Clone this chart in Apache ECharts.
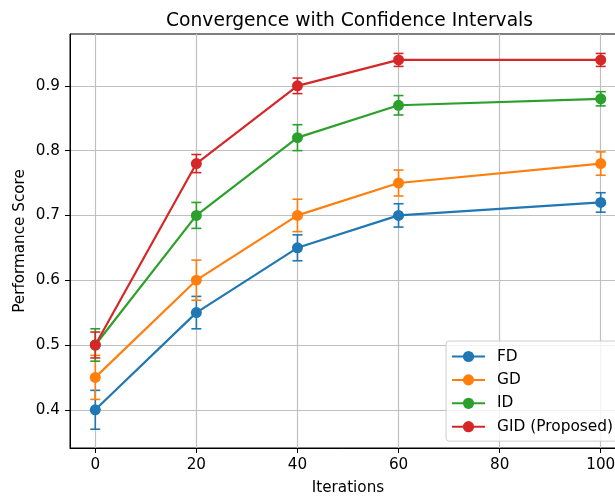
<!DOCTYPE html>
<html>
<head>
<meta charset="utf-8">
<script src="https://cdn.jsdelivr.net/npm/echarts@6/dist/echarts.min.js"></script>
<style>
  html, body { margin: 0; padding: 0; background: #fff; }
  #chart { width: 615px; height: 499px; }
</style>
</head>
<body>
<div id="chart"></div>
<script>
const iterations = [0, 20, 40, 60, 100];
const seriesNames = ["FD", "GD", "ID", "GID (Proposed)"];
const colors = ["#1f77b4", "#ff7f0e", "#2ca02c", "#d62728"];

// mean scores
const fdScore = [0.40, 0.55, 0.65, 0.70, 0.72];
const gdScore = [0.45, 0.60, 0.70, 0.75, 0.78];
const idScore = [0.50, 0.70, 0.82, 0.87, 0.88];
const gidScore = [0.50, 0.78, 0.90, 0.94, 0.94];

// half-width of the confidence intervals
const fdErr = [0.030, 0.025, 0.020, 0.018, 0.015];
const gdErr = [0.034, 0.031, 0.025, 0.020, 0.018];
const idErr = [0.025, 0.020, 0.020, 0.015, 0.011];
const gidErr = [0.020, 0.014, 0.012, 0.010, 0.010];

const xTicks = [0, 20, 40, 60, 80, 100];
const yTicks = [0.4, 0.5, 0.6, 0.7, 0.8, 0.9];

const scores = [fdScore, gdScore, idScore, gidScore];
const errs = [fdErr, gdErr, idErr, gidErr];

const FONT = "DejaVu Sans";
const FS = 15.2;

const chart = echarts.init(document.getElementById("chart"));

const series = [];
scores.forEach((vals, i) => {
  const color = colors[i];
  // error bars drawn just under their own line
  series.push({
    name: seriesNames[i] + " err",
    type: "custom",
    z: 10 + i * 2,
    data: iterations.map((x, k) => [x, vals[k], errs[i][k]]),
    encode: { x: 0, y: 1 },
    renderItem: (params, api) => {
      const x = api.value(0), y = api.value(1), e = api.value(2);
      const top = api.coord([x, y + e]);
      const bot = api.coord([x, y - e]);
      const cap = 5;
      const style = { stroke: color, lineWidth: 1.6 };
      return {
        type: "group",
        children: [
          { type: "line", shape: { x1: top[0], y1: top[1], x2: bot[0], y2: bot[1] }, style },
          { type: "line", shape: { x1: top[0] - cap, y1: top[1], x2: top[0] + cap, y2: top[1] }, style },
          { type: "line", shape: { x1: bot[0] - cap, y1: bot[1], x2: bot[0] + cap, y2: bot[1] }, style }
        ]
      };
    }
  });
  series.push({
    name: seriesNames[i],
    type: "line",
    z: 11 + i * 2,
    data: iterations.map((x, k) => [x, vals[k]]),
    symbol: "circle",
    symbolSize: 11,
    showSymbol: true,
    lineStyle: { color, width: 2.2 },
    itemStyle: { color }
  });
});

chart.setOption({
  animation: false,
  color: colors,
  title: {
    text: "Convergence with Confidence Intervals",
    left: 161,
    top: 7,
    textStyle: { fontFamily: FONT, fontSize: 18.7, fontWeight: "normal", color: "#000" }
  },
  grid: {
    left: 70,
    right: -11,
    top: 34,
    bottom: 51,
    outerBoundsMode: "none",
    containLabel: false,
    show: true,
    borderColor: "#000",
    borderWidth: 1
  },
  legend: {
    data: seriesNames,
    orient: "vertical",
    left: 446,
    top: 341,
    itemWidth: 33,
    itemHeight: 14,
    itemGap: 8.4,
    padding: [8, 10, 7, 5],
    backgroundColor: "rgba(255,255,255,0.8)",
    borderColor: "#cccccc",
    borderWidth: 1,
    borderRadius: 3,
    textStyle: { fontFamily: FONT, fontSize: 15.4, color: "#000", padding: [0, 0, 0, 7] }
  },
  xAxis: {
    type: "value",
    min: -5,
    max: 105,
    name: "Iterations",
    nameLocation: "middle",
    nameGap: 33,
    nameMoveOverlap: false,
    nameTextStyle: { fontFamily: FONT, fontSize: FS, color: "#000" },
    axisLine: { show: true, onZero: false, lineStyle: { color: "#000", width: 1 } },
    axisTick: { show: true, inside: false, length: 5, customValues: xTicks, lineStyle: { color: "#000" } },
    axisLabel: { customValues: xTicks, margin: 10, fontFamily: FONT, fontSize: FS, color: "#000" },
    splitLine: { show: true, lineStyle: { color: "#c0c0c0", width: 1.2 } }
  },
  yAxis: {
    type: "value",
    min: 0.341,
    max: 0.98,
    name: "Performance Score",
    nameLocation: "middle",
    nameGap: 42,
    nameMoveOverlap: false,
    nameTextStyle: { fontFamily: FONT, fontSize: FS, color: "#000" },
    axisLine: { show: true, onZero: false, lineStyle: { color: "#000", width: 1 } },
    axisTick: { show: true, inside: false, length: 5, customValues: yTicks, lineStyle: { color: "#000" } },
    axisLabel: {
      customValues: yTicks,
      margin: 10,
      fontFamily: FONT,
      fontSize: FS,
      color: "#000",
      formatter: (v) => v.toFixed(1)
    },
    splitLine: { show: true, lineStyle: { color: "#c0c0c0", width: 1.2 } }
  },
  series
});
</script>
</body>
</html>
